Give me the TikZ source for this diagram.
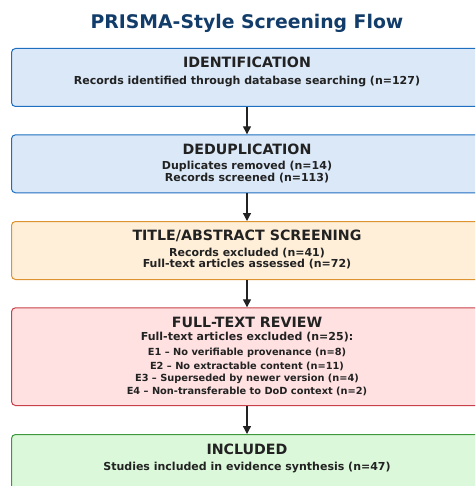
\documentclass[tikz,border=0pt]{standalone}
\usepackage{fontspec}
\setmainfont{DejaVu Sans}
\usetikzlibrary{arrows.meta}

\definecolor{titleblue}{HTML}{123C69}
\definecolor{ink}{HTML}{222222}
\definecolor{bluefill}{HTML}{DAE8F8}
\definecolor{blueline}{HTML}{1F6FC0}
\definecolor{orangefill}{HTML}{FFEFD9}
\definecolor{orangeline}{HTML}{DD9330}
\definecolor{redfill}{HTML}{FFE1E1}
\definecolor{redline}{HTML}{C8404A}
\definecolor{greenfill}{HTML}{DCF8DA}
\definecolor{greenline}{HTML}{3C9A3C}

\tikzset{
  stage/.style={rectangle, rounded corners=4pt, line width=1pt,
    minimum width=471pt, inner sep=0pt, anchor=north},
  head/.style={font=\bfseries\fontsize{14.2}{16}\selectfont, text=ink, inner sep=0pt},
  body/.style={font=\bfseries\fontsize{11}{11.7}\selectfont, text=ink, inner sep=0pt, align=center},
  small/.style={font=\bfseries\fontsize{9.8}{12.8}\selectfont, text=ink, inner sep=0pt},
  flow/.style={draw=ink, line width=1.3pt, -{Triangle[length=8pt,width=8pt]}}
}

\begin{document}
\begin{tikzpicture}[x=1pt,y=-1pt]
\useasboundingbox (0,0) rectangle (475,486);
\clip (0,0) rectangle (475,486);

% title
\node[font=\bfseries\fontsize{18.8}{20}\selectfont, text=titleblue, inner sep=0pt] (title) at (247,23) {PRISMA-Style Screening Flow};

% stage boxes
\node[stage, fill=bluefill, draw=blueline, minimum height=58pt] (ident) at (247,48) {};
\node[stage, fill=bluefill, draw=blueline, minimum height=58pt] (dedup) at (247,134.3) {};
\node[stage, fill=orangefill, draw=orangeline, minimum height=58pt] (screen) at (247,221) {};
\node[stage, fill=redfill, draw=redline, minimum height=97.7pt] (review) at (247,307.3) {};
\node[stage, fill=greenfill, draw=greenline, minimum height=58pt] (incl) at (247,434) {};

% stage texts
\node[head] (identhead) at (247,62.5) {IDENTIFICATION};
\node[body] (identtext) at (247,82) {Records identified through database searching (n=127)};

\node[head] (deduphead) at (247,149) {DEDUPLICATION};
\node[body] (deduptext) at (247,172) {Duplicates removed (n=14)\\Records screened (n=113)};

\node[head] (screenhead) at (247,235.5) {TITLE/ABSTRACT SCREENING};
\node[body] (screentext) at (247,258.5) {Records excluded (n=41)\\Full-text articles assessed (n=72)};

\node[head] (reviewhead) at (247,322) {FULL-TEXT REVIEW};
\node[body] (reviewtext) at (247,337.5) {Full-text articles excluded (n=25):};
\node[small] (e1) at (247,353) {E1 – No verifiable provenance (n=8)};
\node[small] (e2) at (247,366.3) {E2 – No extractable content (n=11)};
\node[small] (e3) at (247,379) {E3 – Superseded by newer version (n=4)};
\node[small] (e4) at (247,391.5) {E4 – Non-transferable to DoD context (n=2)};

\node[head] (inclhead) at (247,449) {INCLUDED};
\node[body] (incltext) at (247,467.5) {Studies included in evidence synthesis (n=47)};

% connectors
\draw[flow] (ident.south) -- (dedup.north);
\draw[flow] (dedup.south) -- (screen.north);
\draw[flow] (screen.south) -- (review.north);
\draw[flow] (review.south) -- (incl.north);
\end{tikzpicture}
\end{document}
